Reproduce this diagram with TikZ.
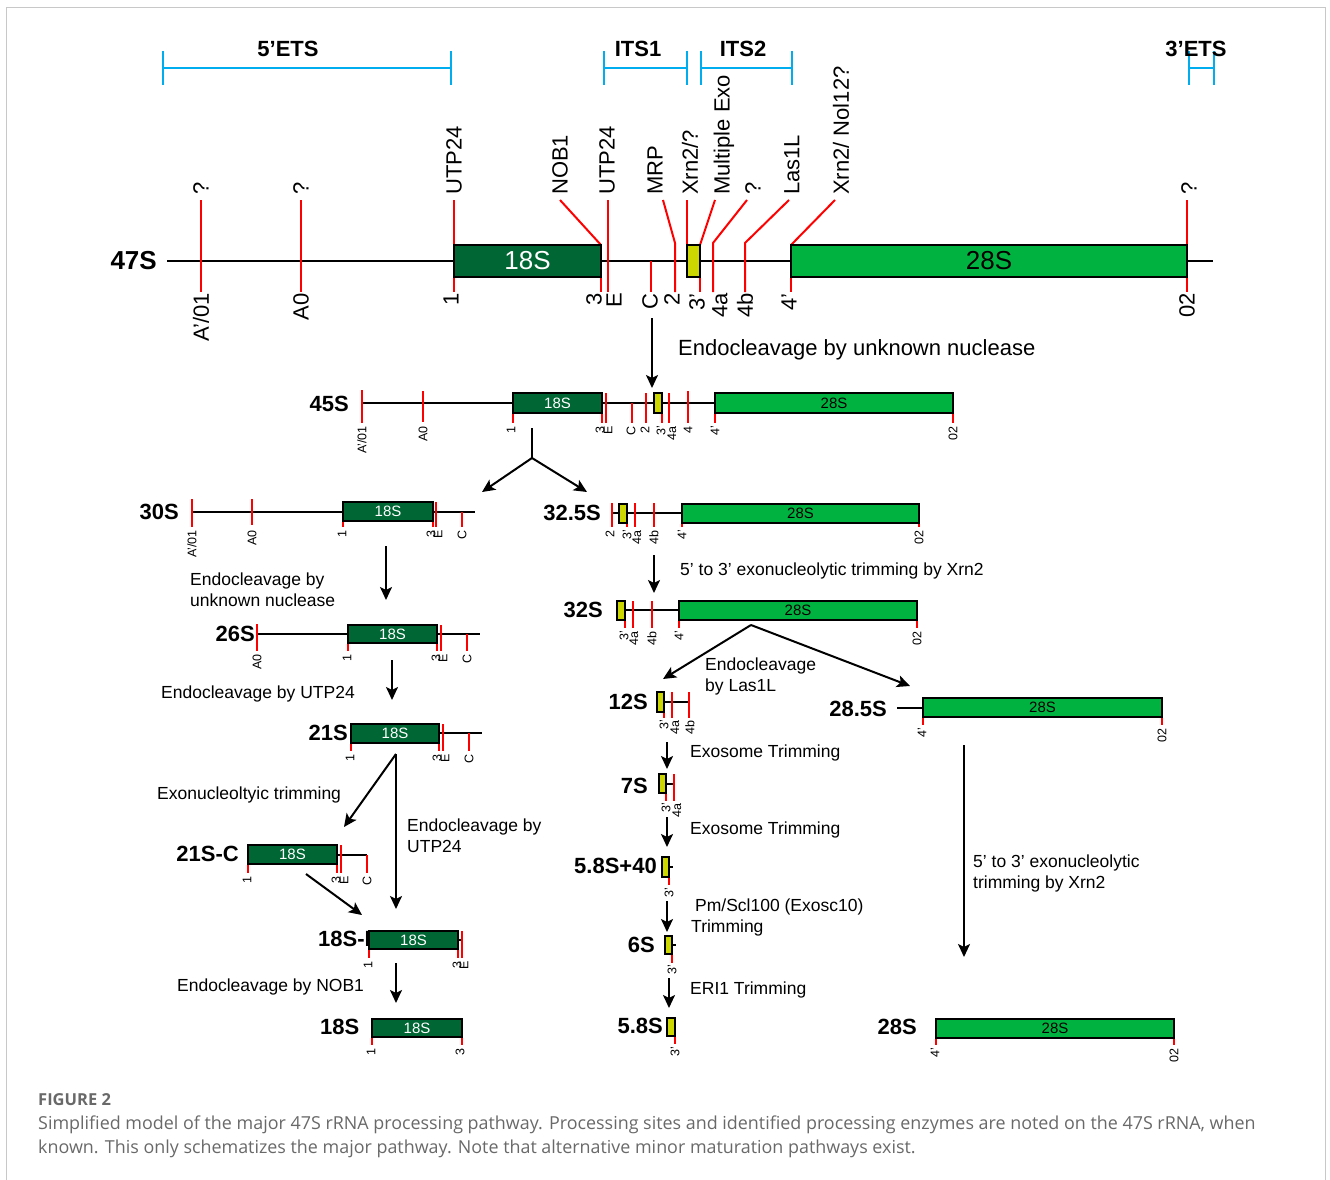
\documentclass[tikz,border=0pt]{standalone}
\usepackage{fontspec}
\setmainfont{Liberation Sans}
\newfontfamily\capfont{Open Sans}
\usetikzlibrary{positioning,arrows.meta}

\definecolor{ssu}{RGB}{0,102,51}
\definecolor{lsu}{RGB}{0,178,64}
\definecolor{itsy}{RGB}{204,214,0}
\definecolor{etsc}{RGB}{0,174,239}
\definecolor{capgray}{RGB}{105,105,105}
\definecolor{framegray}{RGB}{200,200,200}

\tikzset{
  big/.style={font=\bfseries\fontsize{22}{24}\selectfont, inner sep=0pt},
  enz/.style={font=\fontsize{22}{24}\selectfont, rotate=90, anchor=west, inner sep=0pt},
  site/.style={font=\fontsize{22}{24}\selectfont, rotate=90, anchor=east, inner sep=0pt},
  sitesm/.style={font=\fontsize{12.5}{14}\selectfont, rotate=90, anchor=east, inner sep=0pt},
  note/.style={font=\fontsize{17.5}{21}\selectfont, inner sep=0pt, align=left, anchor=west},
  stem/.style={line width=2pt},
  stemsm/.style={line width=1.6pt},
  cut/.style={red, line width=2pt},
  cutsm/.style={red, line width=1.6pt},
  region/.style={etsc, line width=2pt},
  ssubox/.style={draw, fill=ssu, text=white, line width=1.8pt, inner sep=0pt, font=\fontsize{15}{16}\selectfont},
  lsubox/.style={draw, fill=lsu, text=black, line width=1.8pt, inner sep=0pt, font=\fontsize{15}{16}\selectfont},
  itsbox/.style={draw, fill=itsy, line width=1.8pt, inner sep=0pt},
  flow/.style={line width=2pt, -{Stealth[length=13pt, width=12pt, inset=3pt]}},
}

\begin{document}
\begin{tikzpicture}[x=1pt, y=-1pt]
  \useasboundingbox (0,0) rectangle (1330,1180);
  \draw[framegray, line width=1.5pt] (6.5,1180) -- (6.5,7.5) -- (1325.5,7.5) -- (1325.5,1180);

  % regions of the precursor
  \draw[region] (163,51) -- (163,85) (163,68) -- (451,68) (451,51) -- (451,85);
  \draw[region] (604,51) -- (604,85) (604,68) -- (687,68) (687,51) -- (687,85);
  \draw[region] (701,51) -- (701,85) (701,68) -- (792,68) (792,51) -- (792,85);
  \draw[region] (1189,51) -- (1189,85) (1189,68) -- (1214,68) (1214,51) -- (1214,85);
  \node[big] (ets5) at (288,49) {5’ETS};
  \node[big] (its1) at (638,49) {ITS1};
  \node[big] (its2) at (743,49) {ITS2};
  \node[big] (ets3) at (1196,49) {3’ETS};

  % 47S
  \node[big, anchor=east, font=\bfseries\fontsize{26}{28}\selectfont] (n47) at (157,261) {47S};
  \draw[stem] (167,261) -- (1213,261);
  \foreach \x in {201,301,454,608,1187} \draw[cut] (\x,200) -- (\x,292);
  \draw[cut] (601,277) -- (601,292) (651,261) -- (651,292) (700,277) -- (700,292) (791,277) -- (791,292);
  \draw[cut] (560,200) -- (601,245);
  \draw[cut] (663,200) -- (675,243) -- (675,292);
  \draw[cut] (687,200) -- (687,245);
  \draw[cut] (715,200) -- (700,245);
  \draw[cut] (747,200) -- (713,243) -- (713,292);
  \draw[cut] (789,200) -- (745,243) -- (745,292);
  \draw[cut] (835,200) -- (791,245);
  \node[ssubox, minimum width=147pt, minimum height=32pt, font=\fontsize{26}{28}\selectfont] (b47a) at (527.5,261) {18S};
  \node[itsbox, minimum width=13pt, minimum height=32pt] (b47b) at (693.5,261) {};
  \node[lsubox, minimum width=396pt, minimum height=32pt, font=\fontsize{26}{28}\selectfont] (b47c) at (989,261) {28S};
  \foreach \x/\t [count=\i] in {201/?, 301/?, 454/UTP24, 560/NOB1, 607/UTP24, 655/MRP, 690/{Xrn2/?},
      724/Multiple Exo, 753/?, 792/Las1L, 841/{Xrn2/ Nol12?}, 1189/?}
    \node[enz] (e47-\i) at (\x,195) {\t};
  \foreach \x/\t [count=\i] in {201/{A’/01}, 301/A0, 451/1, 594/3, 614/E, 650/C, 672/2, 697/3’,
      720/4a, 745/4b, 789/4’, 1187/02}
    \node[site] (s47-\i) at (\x,293) {\t};

  \coordinate (c47) at (652,318);
  \coordinate (c45) at (652,388);
  \draw[flow] (c47) -- (c45);
  \node[note, font=\fontsize{22}{24}\selectfont] (t45) at (678,350) {Endocleavage by unknown nuclease};

  % 45S
  \node[big, anchor=east] (n45) at (349,404) {45S};
  \draw[stemsm] (362,403) -- (953,403);
  \draw[cutsm] (362,390) -- (362,423) (423,391) -- (423,422) (513,393) -- (513,423) (602,413) -- (602,423)
    (606,393) -- (606,423) (632,403) -- (632,423) (646,393) -- (646,423) (662,413) -- (662,423)
    (669,393) -- (669,423) (688,391) -- (688,423) (715,413) -- (715,423) (953,413) -- (953,423);
  \node[ssubox, minimum width=89pt, minimum height=20pt] (b45a) at (557.5,403) {18S};
  \node[itsbox, minimum width=8pt, minimum height=20pt] (b45b) at (658,403) {};
  \node[lsubox, minimum width=238pt, minimum height=20pt] (b45c) at (834,403) {28S};
  \foreach \x/\t [count=\i] in {362/{A’/01}, 423/A0, 511/1, 600/3, 608/E, 631/C, 645/2, 661/3’,
      672/4a, 688/4, 715/4’, 953/02}
    \node[sitesm] (s45-\i) at (\x,426) {\t};

  \coordinate (br0) at (532,428);
  \coordinate (br1) at (532,458);
  \coordinate (br30) at (482,492);
  \coordinate (br32) at (587,492);
  \draw[stem] (br0) -- (br1);
  \draw[flow] (br1) -- (br30);
  \draw[flow] (br1) -- (br32);

  % 30S
  \node[big, anchor=east] (n30) at (179,512) {30S};
  \draw[stemsm] (192,512) -- (475,512);
  \draw[cutsm] (192,499) -- (192,527) (252,499) -- (252,525) (343,521) -- (343,527) (433,521) -- (433,527)
    (436,502) -- (436,527) (462,512) -- (462,527);
  \node[ssubox, minimum width=90pt, minimum height=19pt] (b30) at (388,511.5) {18S};
  \foreach \x/\t [count=\i] in {192/{A’/01}, 252/A0, 342/1, 431/3, 438/E, 462/C}
    \node[sitesm] (s30-\i) at (\x,530) {\t};
  \coordinate (a30) at (386,546);
  \coordinate (a26) at (386,600);
  \draw[flow] (a30) -- (a26);
  \node[note] (t26) at (190,590) {Endocleavage by\\unknown nuclease};

  % 26S
  \node[big, anchor=east] (n26) at (255,634) {26S};
  \draw[stemsm] (257,634) -- (480,634);
  \draw[cutsm] (257,624) -- (257,651) (348,643) -- (348,651) (437,643) -- (437,651)
    (441,625) -- (441,651) (467,634) -- (467,651);
  \node[ssubox, minimum width=89pt, minimum height=18pt] (b26) at (392.5,634) {18S};
  \foreach \x/\t [count=\i] in {257/A0, 347/1, 436/3, 443/E, 467/C}
    \node[sitesm] (s26-\i) at (\x,654) {\t};
  \coordinate (a26b) at (392,660);
  \coordinate (a21) at (392,700);
  \draw[flow] (a26b) -- (a21);
  \node[note] (t21) at (161,694) {Endocleavage by UTP24};

  % 21S
  \node[big, anchor=east] (n21) at (348,733) {21S};
  \draw[stemsm] (439,733) -- (482,733);
  \draw[cutsm] (351,743) -- (351,751) (439,743) -- (439,751) (443,724) -- (443,751) (469,733) -- (469,751);
  \node[ssubox, minimum width=88pt, minimum height=19pt] (b21) at (395,733.5) {18S};
  \foreach \x/\t [count=\i] in {350/1, 437/3, 445/E, 469/C}
    \node[sitesm] (s21-\i) at (\x,754) {\t};
  \coordinate (a21b) at (396,754);
  \coordinate (a21c) at (344,827);
  \coordinate (a18e) at (396,909);
  \draw[flow] (a21b) -- (a21c);
  \draw[flow] (a21b) -- (a18e);
  \node[note] (t21c) at (157,795) {Exonucleoltyic trimming};
  \node[note] (t18e) at (407,836) {Endocleavage by\\UTP24};

  % 21S-C
  \node[big, anchor=east] (n21c) at (239,854) {21S-C};
  \draw[stemsm] (337,855) -- (367,855);
  \draw[cutsm] (248,864) -- (248,873) (337,864) -- (337,873) (341,845) -- (341,873) (367,855) -- (367,873);
  \node[ssubox, minimum width=89pt, minimum height=19pt] (b21c) at (292.5,854.5) {18S};
  \foreach \x/\t [count=\i] in {247/1, 336/3, 344/E, 367/C}
    \node[sitesm] (s21c-\i) at (\x,876) {\t};
  \coordinate (a21cb) at (306,874);
  \coordinate (a18eb) at (362,915);
  \draw[flow] (a21cb) -- (a18eb);

  % 18S-E
  \node[big, anchor=west] (n18e) at (318,939) {18S-E};
  \draw[stemsm] (458,940) -- (462,940);
  \draw[cutsm] (369,949) -- (369,958) (458,949) -- (458,958) (462,931) -- (462,958);
  \node[ssubox, minimum width=89pt, minimum height=18pt] (b18e) at (413.5,940) {18S};
  \foreach \x/\t [count=\i] in {368/1, 457/3, 464/E}
    \node[sitesm] (s18e-\i) at (\x,961) {\t};
  \coordinate (a18) at (396,963);
  \coordinate (a18b) at (396,1003);
  \draw[flow] (a18) -- (a18b);
  \node[note] (t18) at (177,987) {Endocleavage by NOB1};

  % 18S
  \node[big, anchor=west] (n18) at (320,1027) {18S};
  \draw[cutsm] (372,1037) -- (372,1045) (462,1037) -- (462,1045);
  \node[ssubox, minimum width=90pt, minimum height=18pt] (b18) at (417,1028) {18S};
  \foreach \x/\t [count=\i] in {371/1, 460/3}
    \node[sitesm] (s18-\i) at (\x,1048) {\t};

  % 32.5S
  \node[big, anchor=east] (n325) at (601,513) {32.5S};
  \draw[stemsm] (612,513) -- (682,513);
  \draw[cutsm] (612,503) -- (612,527) (627,523) -- (627,527) (635,503) -- (635,527) (654,503) -- (654,527)
    (682,523) -- (682,527) (919,523) -- (919,527);
  \node[itsbox, minimum width=8pt, minimum height=19pt] (b325a) at (623,513.5) {};
  \node[lsubox, minimum width=237pt, minimum height=19pt] (b325b) at (800.5,513.5) {28S};
  \foreach \x/\t [count=\i] in {610/2, 627/3’, 637/4a, 654/4b, 682/4’, 919/02}
    \node[sitesm] (s325-\i) at (\x,530) {\t};
  \coordinate (a325) at (654,555);
  \coordinate (a32) at (654,593);
  \draw[flow] (a325) -- (a32);
  \node[note] (t32) at (680,571) {5’ to 3’ exonucleolytic trimming by Xrn2};

  % 32S
  \node[big, anchor=east] (n32) at (603,610) {32S};
  \draw[stemsm] (625,610) -- (679,610);
  \draw[cutsm] (625,620) -- (625,628) (633,601) -- (633,628) (652,601) -- (652,628) (679,620) -- (679,628)
    (917,620) -- (917,628);
  \node[itsbox, minimum width=8pt, minimum height=19pt] (b32a) at (621,610.5) {};
  \node[lsubox, minimum width=238pt, minimum height=19pt] (b32b) at (798,610.5) {28S};
  \foreach \x/\t [count=\i] in {624/3’, 634/4a, 652/4b, 679/4’, 917/02}
    \node[sitesm] (s32-\i) at (\x,631) {\t};
  \coordinate (a32b) at (751,625);
  \coordinate (a12) at (663,679);
  \coordinate (a285) at (910,686);
  \draw[flow] (a32b) -- (a12);
  \draw[flow] (a32b) -- (a285);
  \node[note] (t12) at (705,676) {Endocleavage\\by Las1L};

  % 12S
  \node[big, anchor=east] (n12) at (648,702) {12S};
  \draw[stemsm] (664,702) -- (689,702);
  \draw[cutsm] (664,712) -- (664,718) (672,692) -- (672,718) (689,692) -- (689,718);
  \node[itsbox, minimum width=7pt, minimum height=20pt] (b12) at (660.5,702) {};
  \foreach \x/\t [count=\i] in {664/3’, 675/4a, 690/4b}
    \node[sitesm] (s12-\i) at (\x,720) {\t};
  \coordinate (a12b) at (667,742);
  \coordinate (a7) at (667,769);
  \draw[flow] (a12b) -- (a7);
  \node[note] (t7) at (690,753) {Exosome Trimming};

  % 7S
  \node[big, anchor=east] (n7) at (648,786) {7S};
  \draw[stemsm] (666,784) -- (674,784);
  \draw[cutsm] (666,793) -- (666,801) (674,774) -- (674,801);
  \node[itsbox, minimum width=7pt, minimum height=19pt] (b7) at (662.5,783.5) {};
  \foreach \x/\t [count=\i] in {666/3’, 677/4a}
    \node[sitesm] (s7-\i) at (\x,803) {\t};
  \coordinate (a7b) at (667,817);
  \coordinate (a58p) at (667,847);
  \draw[flow] (a7b) -- (a58p);
  \node[note] (t58p) at (690,830) {Exosome Trimming};

  % 5.8S+40
  \node[big, anchor=east] (n58p) at (657,866) {5.8S+40};
  \draw[stemsm] (669,867) -- (673,867);
  \draw[cutsm] (669,877) -- (669,885);
  \node[itsbox, minimum width=7pt, minimum height=20pt] (b58p) at (665.5,867) {};
  \node[sitesm] (s58p-1) at (669,888) {3’};
  \coordinate (a58pb) at (667,901);
  \coordinate (a6) at (667,932);
  \draw[flow] (a58pb) -- (a6);
  \node[note] (t6) at (691,917) {\hspace{4pt}Pm/Scl100 (Exosc10)\\Trimming};

  % 6S
  \node[big, anchor=east] (n6) at (655,945) {6S};
  \draw[stemsm] (672,945) -- (676,945);
  \draw[cutsm] (672,954) -- (672,963);
  \node[itsbox, minimum width=7pt, minimum height=18pt] (b6) at (668.5,945) {};
  \node[sitesm] (s6-1) at (672,965) {3’};
  \coordinate (a6b) at (669,978);
  \coordinate (a58) at (669,1008);
  \draw[flow] (a6b) -- (a58);
  \node[note] (t58) at (690,990) {ERI1 Trimming};

  % 5.8S
  \node[big, anchor=east] (n58) at (663,1026) {5.8S};
  \draw[cutsm] (675,1036) -- (675,1044);
  \node[itsbox, minimum width=8pt, minimum height=18pt] (b58) at (671,1027) {};
  \node[sitesm] (s58-1) at (675,1047) {3’};

  % 28.5S
  \node[big, anchor=east] (n285) at (887,709) {28.5S};
  \draw[stemsm] (897,708) -- (923,708);
  \draw[cutsm] (923,717) -- (923,725) (1162,717) -- (1162,725);
  \node[lsubox, minimum width=239pt, minimum height=19pt] (b285) at (1042.5,707.5) {28S};
  \foreach \x/\t [count=\i] in {922/4’, 1162/02}
    \node[sitesm] (s285-\i) at (\x,728) {\t};
  \coordinate (a285b) at (964,745);
  \coordinate (a28) at (964,957);
  \draw[flow] (a285b) -- (a28);
  \node[note] (t28) at (973,873) {5’ to 3’ exonucleolytic\\trimming by Xrn2};

  % 28S
  \node[big, anchor=east] (n28) at (917,1027) {28S};
  \draw[cutsm] (936,1038) -- (936,1045) (1174,1038) -- (1174,1045);
  \node[lsubox, minimum width=238pt, minimum height=19pt] (b28) at (1055,1028.5) {28S};
  \foreach \x/\t [count=\i] in {935/4’, 1174/02}
    \node[sitesm] (s28-\i) at (\x,1048) {\t};

  % caption
  \node[anchor=west, inner sep=0pt, text=capgray, font=\capfont\bfseries\fontsize{16.5}{18}\selectfont] (fig) at (38,1100) {FIGURE 2};
  \node[anchor=west, inner sep=0pt, text=capgray, font=\capfont\fontsize{17.9}{20}\selectfont] (cap1) at (38,1125)
    {Simplified model of the major 47S rRNA processing pathway. Processing sites and identified processing enzymes are noted on the 47S rRNA, when};
  \node[anchor=west, inner sep=0pt, text=capgray, font=\capfont\fontsize{17.9}{20}\selectfont] (cap2) at (38,1149)
    {known. This only schematizes the major pathway. Note that alternative minor maturation pathways exist.};
\end{tikzpicture}
\end{document}
